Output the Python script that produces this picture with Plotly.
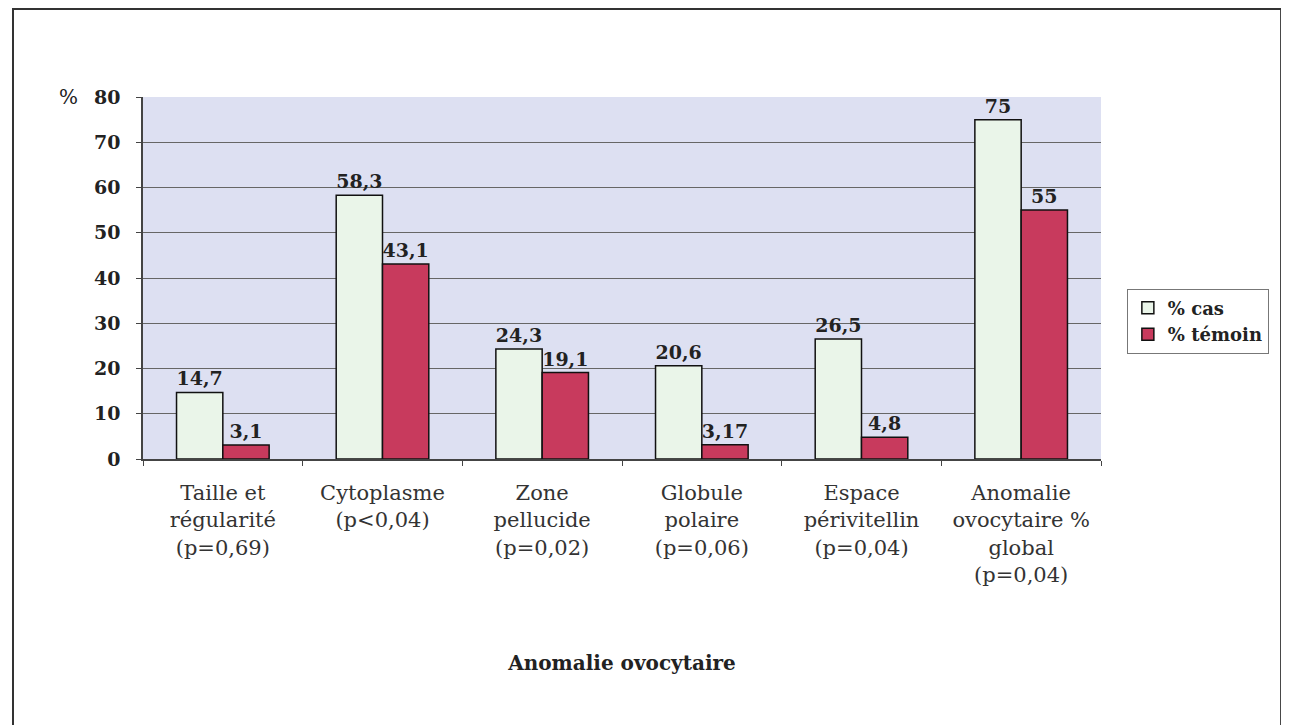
import plotly.graph_objects as go

categories = [
    "Taille et<br>régularité<br>(p=0,69)",
    "Cytoplasme<br>(p<0,04)",
    "Zone<br>pellucide<br>(p=0,02)",
    "Globule<br>polaire<br>(p=0,06)",
    "Espace<br>périvitellin<br>(p=0,04)",
    "Anomalie<br>ovocytaire %<br>global<br>(p=0,04)",
]
cas = [14.7, 58.3, 24.3, 20.6, 26.5, 75]
temoin = [3.1, 43.1, 19.1, 3.17, 4.8, 55]
cas_labels = ["14,7", "58,3", "24,3", "20,6", "26,5", "75"]
temoin_labels = ["3,1", "43,1", "19,1", "3,17", "4,8", "55"]
y_ticks = [0, 10, 20, 30, 40, 50, 60, 70, 80]

SERIF = "DejaVu Serif, Liberation Serif, serif"
TXT = "#222222"

fig = go.Figure()

fig.add_trace(
    go.Bar(
        x=categories,
        y=cas,
        name="% cas",
        text=cas_labels,
        textposition="outside",
        cliponaxis=False,
        textfont=dict(family=SERIF, size=19, color=TXT, weight="bold"),
        marker=dict(color="#EAF5E9", line=dict(color="#111111", width=1.5)),
    )
)
fig.add_trace(
    go.Bar(
        x=categories,
        y=temoin,
        name="% témoin",
        text=temoin_labels,
        textposition="outside",
        cliponaxis=False,
        textfont=dict(family=SERIF, size=19, color=TXT, weight="bold"),
        marker=dict(color="#C83A5D", line=dict(color="#111111", width=1.5)),
    )
)

# cadre extérieur
fig.add_shape(
    type="rect", xref="paper", yref="paper",
    x0=-0.1357, x1=1.188, y0=-0.8, y1=1.243,
    line=dict(color="#333333", width=2), layer="below",
)

fig.add_annotation(
    text="%", xref="paper", yref="paper", x=-0.078, y=1.0,
    showarrow=False, xanchor="center", yanchor="middle",
    font=dict(family=SERIF, size=20, color=TXT),
)

fig.update_layout(
    width=1281,
    height=717,
    barmode="group",
    bargap=0.42,
    bargroupgap=0,
    plot_bgcolor="#DDE0F2",
    paper_bgcolor="white",
    margin=dict(l=135, r=188, t=89, b=266),
    font=dict(family=SERIF, color=TXT),
    showlegend=True,
    legend=dict(
        x=1.027, y=0.381, xanchor="left", yanchor="middle",
        bordercolor="#777777", borderwidth=1,
        font=dict(family=SERIF, size=18, color=TXT, weight="bold"),
        itemwidth=30,
        tracegroupgap=2,
    ),
    xaxis=dict(
        title=dict(text="<b>Anomalie ovocytaire</b>", font=dict(family=SERIF, size=20), standoff=70),
        tickfont=dict(family=SERIF, size=21, color="#333333"),
        ticks="outside",
        tickson="boundaries",
        ticklen=5,
        tickcolor="#444444",
        ticklabelstandoff=14,
        showline=True,
        linecolor="#444444",
        linewidth=1.5,
    ),
    yaxis=dict(
        range=[0, 80],
        tickvals=y_ticks,
        tickfont=dict(family=SERIF, size=19, color=TXT, weight="bold"),
        ticks="outside",
        ticklen=5,
        tickcolor="#444444",
        ticklabelstandoff=12,
        showline=True,
        linecolor="#444444",
        linewidth=1.5,
        gridcolor="#666666",
        gridwidth=1,
        zeroline=False,
    ),
)

fig.write_html("out.html")
